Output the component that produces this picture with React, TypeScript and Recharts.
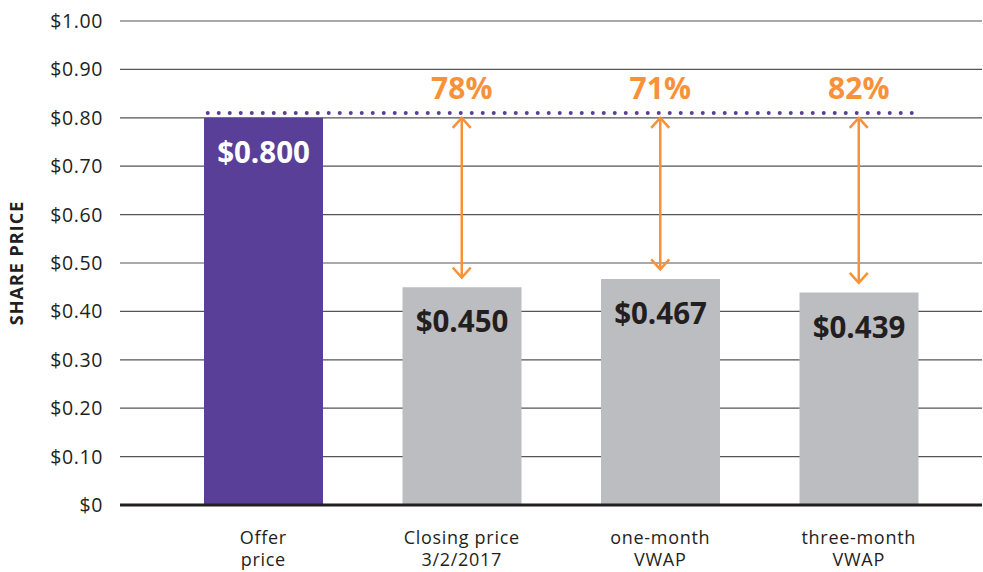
import { Bar, BarChart, CartesianGrid, Cell, LabelList, ReferenceLine, XAxis, YAxis } from "recharts"

const CATEGORIES = ["Offer\nprice", "Closing price\n3/2/2017", "one-month\nVWAP", "three-month\nVWAP"]
const PRICES = [0.8, 0.45, 0.467, 0.439]
const PRICE_LABELS = ["$0.800", "$0.450", "$0.467", "$0.439"]
const PREMIUMS = ["", "78%", "71%", "82%"]
const Y_TICKS = [0, 0.1, 0.2, 0.3, 0.4, 0.5, 0.6, 0.7, 0.8, 0.9, 1.0]
const OFFER_LEVEL = 0.8
const DOTTED_LEVEL = 0.81
const ARROW_GAP = 0.02

const BAR_SIZE = 119
const PURPLE = "#5a3f99"
const GREY = "#bcbdc1"
const ORANGE = "#f7923a"
const INK = "#231f20"
const FONT = "'Open Sans', Lato, sans-serif"

const data = CATEGORIES.map((name, i) => ({ name, price: PRICES[i] }))

// two-line category label, one text element with tspans
function XTick(props: any) {
  const { x, y, payload } = props
  const lines = String(payload.value).split("\n")
  return (
    <text x={x} y={y + 39} textAnchor="middle" fill={INK} fontSize={18} letterSpacing={0.7} fontFamily={FONT}>
      {lines.map((t, i) => (
        <tspan key={i} x={x} dy={i === 0 ? 0 : 22}>
          {t}
        </tspan>
      ))}
    </text>
  )
}

function PriceLabel(props: any) {
  const { x, y, width, index } = props
  return (
    <text
      x={x + width / 2}
      y={y + 45}
      textAnchor="middle"
      fill={index === 0 ? "#fff" : INK}
      fontSize={29.5}
      fontWeight={700}
      fontFamily={FONT}
    >
      {PRICE_LABELS[index]}
    </text>
  )
}

function Arrow(props: any) {
  const { x1, y1, x2, y2, text } = props
  const h = 10
  const w = 9
  return (
    <g>
      <line x1={x1} y1={y1} x2={x2} y2={y2} stroke={ORANGE} strokeWidth={2.5} />
      <polyline points={`${x1 - w},${y1 + h} ${x1},${y1} ${x1 + w},${y1 + h}`} fill="none" stroke={ORANGE} strokeWidth={2.5} />
      <polyline points={`${x2 - w},${y2 - h} ${x2},${y2} ${x2 + w},${y2 - h}`} fill="none" stroke={ORANGE} strokeWidth={2.5} />
      <text x={x1} y={y1 - 19} textAnchor="middle" fill={ORANGE} fontSize={30} fontWeight={700} fontFamily={FONT}>
        {text}
      </text>
    </g>
  )
}

function DottedLine(props: any) {
  const { x1, y1, x2, y2 } = props
  return (
    <line
      x1={x1 - BAR_SIZE / 2 + 4}
      y1={y1}
      x2={x2 + BAR_SIZE / 2 - 6}
      y2={y2}
      stroke={PURPLE}
      strokeWidth={4}
      strokeDasharray="0 11"
      strokeLinecap="round"
    />
  )
}

export default function App() {
  return (
    <div style={{ position: "absolute", left: 0, top: 0, width: 983, height: 572, background: "#fff" }}>
      <BarChart width={983} height={572} data={data} margin={{ top: 21, right: 1, bottom: 0, left: 0 }}>
        <CartesianGrid vertical={false} stroke="#555" strokeWidth={1.2} />
        <XAxis
          dataKey="name"
          height={67}
          interval={0}
          padding={{ left: 44, right: 24 }}
          tickLine={false}
          tickSize={0}
          tickMargin={0}
          axisLine={{ stroke: INK, strokeWidth: 3 }}
          tick={<XTick />}
        />
        <YAxis
          width={120}
          domain={[0, 1]}
          ticks={Y_TICKS}
          interval={0}
          axisLine={false}
          tickLine={false}
          tickSize={0}
          tickMargin={17}
          tick={{ fill: INK, fontSize: 19.5, fontFamily: FONT, letterSpacing: 0.6 }}
          tickFormatter={(v: number) => (v === 0 ? "$0" : `$${v.toFixed(2)}`)}
          label={{
            content: (p: any) => {
              const vb = p.viewBox
              const cx = 16
              const cy = vb.y + vb.height / 2
              return (
                <text
                  x={cx}
                  y={cy}
                  transform={`rotate(-90, ${cx}, ${cy})`}
                  textAnchor="middle"
                  dominantBaseline="central"
                  fill={INK}
                  fontSize={18}
                  letterSpacing={1}
                  fontWeight={700}
                  fontFamily={FONT}
                >
                  SHARE PRICE
                </text>
              )
            },
          }}
        />
        <Bar dataKey="price" barSize={BAR_SIZE} isAnimationActive={false}>
          {data.map((d, i) => (
            <Cell key={d.name} fill={i === 0 ? PURPLE : GREY} />
          ))}
          <LabelList dataKey="price" content={<PriceLabel />} />
        </Bar>
        <ReferenceLine
          segment={[
            { x: CATEGORIES[0], y: DOTTED_LEVEL },
            { x: CATEGORIES[CATEGORIES.length - 1], y: DOTTED_LEVEL },
          ]}
          shape={(p: any) => <DottedLine {...p} />}
        />
        {CATEGORIES.slice(1).map((c, k) => (
          <ReferenceLine
            key={c}
            segment={[
              { x: c, y: OFFER_LEVEL },
              { x: c, y: PRICES[k + 1] + ARROW_GAP },
            ]}
            shape={(p: any) => <Arrow {...p} text={PREMIUMS[k + 1]} />}
          />
        ))}
      </BarChart>
    </div>
  )
}
